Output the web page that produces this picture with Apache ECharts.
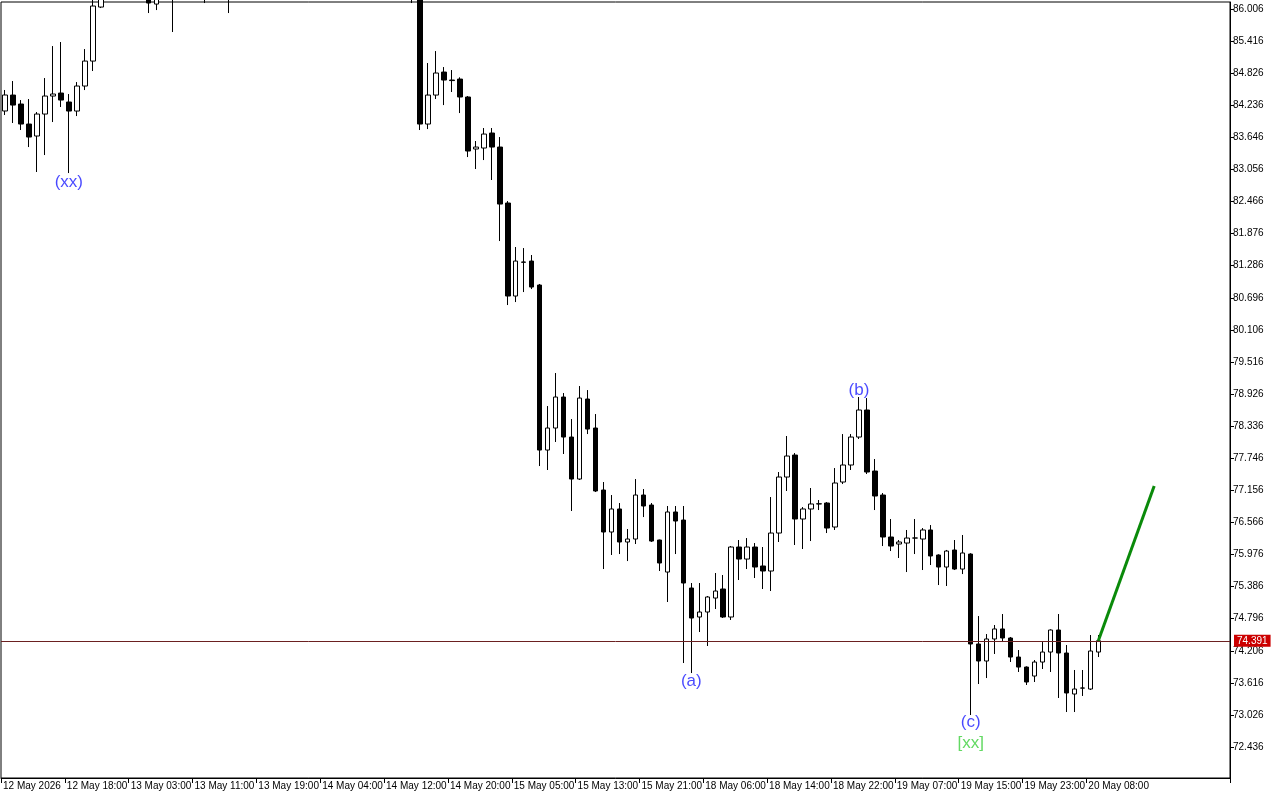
<!DOCTYPE html>
<html><head><meta charset="utf-8">
<script src="https://cdn.jsdelivr.net/npm/echarts@6/dist/echarts.min.js"></script>
<style>html,body{margin:0;padding:0;background:#fff}#c{width:1280px;height:800px}</style>
</head><body><div id="c"></div>
<script>
// [open, close, low, high]
const candles = [
[84.131,84.425,84.057,84.517],[84.424,84.240,83.910,84.682],[84.259,83.891,83.781,84.332],[83.891,83.652,83.468,84.351],
[83.671,84.075,83.009,84.112],[84.075,84.406,83.321,84.737],[84.406,84.443,83.928,85.325],[84.461,84.332,84.204,85.399],
[84.296,84.130,82.990,84.443],[84.130,84.590,84.038,84.663],[84.590,85.049,84.516,85.270],[85.049,86.061,84.866,86.3],
[86.042,86.4,86.024,86.6],
[86.4,86.7,86.3,86.9],[86.7,86.9,86.5,87.1],[86.9,86.6,86.4,87.0],[86.6,86.5,86.3,86.8],[86.5,86.3,86.2,86.7],
[86.4,86.116,85.932,86.6],[86.097,86.4,85.987,86.6],[86.4,86.6,86.25,86.8],[86.6,86.3,85.583,86.8],[86.3,86.5,86.2,86.7],
[86.5,86.8,86.4,87.0],[86.8,86.6,86.4,86.9],[86.6,86.4,86.116,86.8],[86.4,86.7,86.3,86.9],[86.7,86.5,86.3,86.8],
[86.5,86.3,85.932,86.6],[86.3,86.6,86.2,86.8],
[86.6,86.9,86.45,87.1],[86.9,87.1,86.7,87.3],[87.1,86.9,86.7,87.2],[86.9,87.2,86.8,87.4],[87.2,87.4,87.0,87.6],
[87.4,87.2,87.0,87.5],[87.2,87.0,86.8,87.3],[87.0,87.3,86.9,87.5],[87.3,87.5,87.1,87.7],[87.5,87.3,87.1,87.6],
[87.3,87.1,86.9,87.4],[87.1,86.9,86.7,87.2],[86.9,87.1,86.8,87.3],[87.1,86.8,86.6,87.2],[86.8,86.6,86.4,86.9],
[86.6,86.8,86.5,87.0],[86.8,86.7,86.5,86.9],[86.7,86.5,86.3,86.8],[86.5,86.6,86.35,86.8],[86.6,86.4,86.3,86.7],
[86.4,86.5,86.25,86.6],
[86.4,86.3,86.116,86.5],
[86.3,83.891,83.781,86.4],[83.891,84.424,83.799,85.013],[84.424,84.829,84.351,85.233],[84.847,84.700,84.240,84.939],
[84.70,84.69,84.480,84.884],[84.718,84.388,84.093,84.75],[84.388,83.395,83.284,84.406],[83.432,83.468,83.064,83.579],
[83.450,83.707,83.229,83.818],[83.726,83.468,82.862,83.818],[83.468,82.420,81.740,83.652],[82.439,80.729,80.563,82.475],
[80.729,81.372,80.618,81.630],[81.354,81.35,80.802,81.611],[81.372,80.894,80.857,81.483],[80.931,77.897,77.603,80.95],
[77.897,78.302,77.530,78.706],[78.302,78.872,78.045,79.313],[78.872,78.136,77.824,78.945],[78.136,77.364,76.776,78.467],
[77.364,78.853,77.346,79.074],[78.835,78.283,78.191,79.0],[78.302,77.144,77.125,78.559],[77.162,76.390,75.709,77.309],
[76.390,76.813,75.967,77.070],[76.813,76.206,75.985,76.923],[76.206,76.261,75.856,76.445],[76.261,77.070,76.169,77.364],
[77.070,76.868,76.665,77.180],[76.886,76.224,76.206,76.923],[76.243,75.820,75.673,76.25],[75.654,76.758,75.103,76.868],
[76.758,76.592,75.985,76.868],[76.610,75.452,73.981,76.868],[75.360,74.808,73.797,75.452],[74.827,74.919,74.551,75.452],
[74.919,75.195,74.294,75.213],[75.176,75.305,74.974,75.636],[75.342,74.827,74.809,75.599],[74.827,76.114,74.772,76.132],
[76.114,75.893,75.507,76.243],[75.893,76.114,75.709,76.279],[76.114,75.746,75.544,76.187],[75.765,75.673,75.342,76.114],
[75.673,76.371,75.305,77.033],[76.371,77.401,76.206,77.493],[77.401,77.787,77.144,78.155],[77.805,76.629,76.151,77.842],
[76.629,76.813,76.077,76.849],[76.813,76.905,76.224,77.199],[76.905,76.91,76.794,76.978],[76.923,76.463,76.371,76.941],
[76.482,77.291,76.427,77.566],[77.309,77.622,77.272,78.191],[77.622,78.136,77.530,78.191],[78.136,78.633,78.1,78.872],
[78.633,77.493,77.456,78.853],[77.511,77.052,76.794,77.732],[77.070,76.298,76.132,77.107],[76.298,76.132,76.040,76.629],
[76.169,76.206,75.912,76.243],[76.187,76.279,75.654,76.427],[76.279,76.28,75.985,76.629],[76.261,76.427,75.691,76.463],
[76.427,75.949,75.783,76.518],[75.967,75.746,75.415,75.98],[75.746,76.040,75.397,76.06],[76.059,75.709,75.691,76.243],
[75.709,76.004,75.617,76.335],[75.985,74.331,73.025,76.0],[74.331,74.018,73.595,74.845],[74.018,74.423,73.705,74.514],
[74.423,74.607,74.147,74.680],[74.607,74.441,74.367,74.882],[74.441,74.091,74.000,74.46],[74.091,73.907,73.816,74.220],
[73.907,73.632,73.577,73.92],[73.742,73.999,73.632,74.036],[73.999,74.183,73.871,74.367],[74.183,74.588,73.816,74.6],
[74.588,74.165,73.338,74.882],[74.165,73.430,73.080,74.312],[73.411,73.503,73.080,73.853],[73.522,73.52,73.375,73.853],
[73.503,74.202,73.485,74.496],[74.183,74.391,74.091,74.496]
];
const totalSlots = 154;
const xLabels = ['12 May 2026','12 May 18:00','13 May 03:00','13 May 11:00','13 May 19:00','14 May 04:00','14 May 12:00','14 May 20:00','15 May 05:00','15 May 13:00','15 May 21:00','18 May 06:00','18 May 14:00','18 May 22:00','19 May 07:00','19 May 15:00','19 May 23:00','20 May 08:00'];
const yTicks = [86.006,85.416,84.826,84.236,83.646,83.056,82.466,81.876,81.286,80.696,80.106,79.516,78.926,78.336,77.746,77.156,76.566,75.976,75.386,74.796,74.206,73.616,73.026,72.436];
const currentPrice = 74.391;
const forecast = [[137, 74.391], [144, 77.235]];
const waveLabels = [
  {idx: 8, price: 82.825, text: '(xx)', color: '#1a1aff'},
  {idx: 86, price: 73.65, text: '(a)', color: '#1a1aff'},
  {idx: 107, price: 79.0, text: '(b)', color: '#1a1aff'},
  {idx: 121, price: 72.90, text: '(c)', color: '#1a1aff'},
  {idx: 121, price: 72.51, text: '[xx]', color: '#3ccf3c'}
];

const cats = [];
for (let i = 0; i < totalSlots; i++) cats.push('c' + i);
const chart = echarts.init(document.getElementById('c'));
const font = 'Liberation Sans';
const hasLabel = (i) => i % 8 === 0 && i / 8 < xLabels.length;
chart.setOption({
  animation: false,
  backgroundColor: '#fff',
  grid: {left: -1, right: 50, top: 2, bottom: 22, show: true, borderColor: '#000', borderWidth: 1},
  xAxis: {
    type: 'category', data: cats, boundaryGap: true,
    axisLine: {lineStyle: {color: '#000'}},
    axisTick: {show: true, interval: (i) => hasLabel(i), length: 5, lineStyle: {color: '#000'}},
    axisLabel: {interval: 0, formatter: (v, i) => hasLabel(i) ? xLabels[i / 8] : '',
      align: 'left', margin: 3, padding: [0, 0, 0, -2], fontFamily: font, fontSize: 10, color: '#000'},
    splitLine: {show: false}
  },
  yAxis: {
    type: 'value', position: 'right', min: 71.867, max: 86.135, scale: true,
    axisLine: {show: true, lineStyle: {color: '#000', width: 1}},
    axisTick: {show: true, customValues: yTicks, length: 4, lineStyle: {color: '#000'}},
    axisLabel: {customValues: yTicks, formatter: (v) => v.toFixed(3), fontFamily: font, fontSize: 10, color: '#000', margin: 3},
    splitLine: {show: false}
  },
  series: [
    {
      type: 'candlestick', data: candles, barWidth: 5, clip: true,
      itemStyle: {color: '#fff', color0: '#000', borderColor: '#000', borderColor0: '#000', borderWidth: 1},
      markLine: {
        silent: true, symbol: 'none',
        lineStyle: {color: '#6b2020', width: 1, type: 'solid'},
        label: {position: 'end', formatter: currentPrice.toFixed(3), backgroundColor: '#cc0000', color: '#fff',
          fontFamily: font, fontSize: 10, padding: [1, 3], distance: 4},
        data: [{yAxis: currentPrice}]
      }
    },
    {
      type: 'line', data: forecast, symbol: 'none', lineStyle: {color: '#0a8a0a', width: 3}, z: 5
    },
    {
      type: 'scatter', symbolSize: 0,
      data: waveLabels.map(w => ({value: [w.idx, w.price],
        label: {show: true, formatter: w.text, color: w.color, fontFamily: font, fontSize: 17, position: 'inside'}})),
      z: 6
    }
  ]
});
</script></body></html>
